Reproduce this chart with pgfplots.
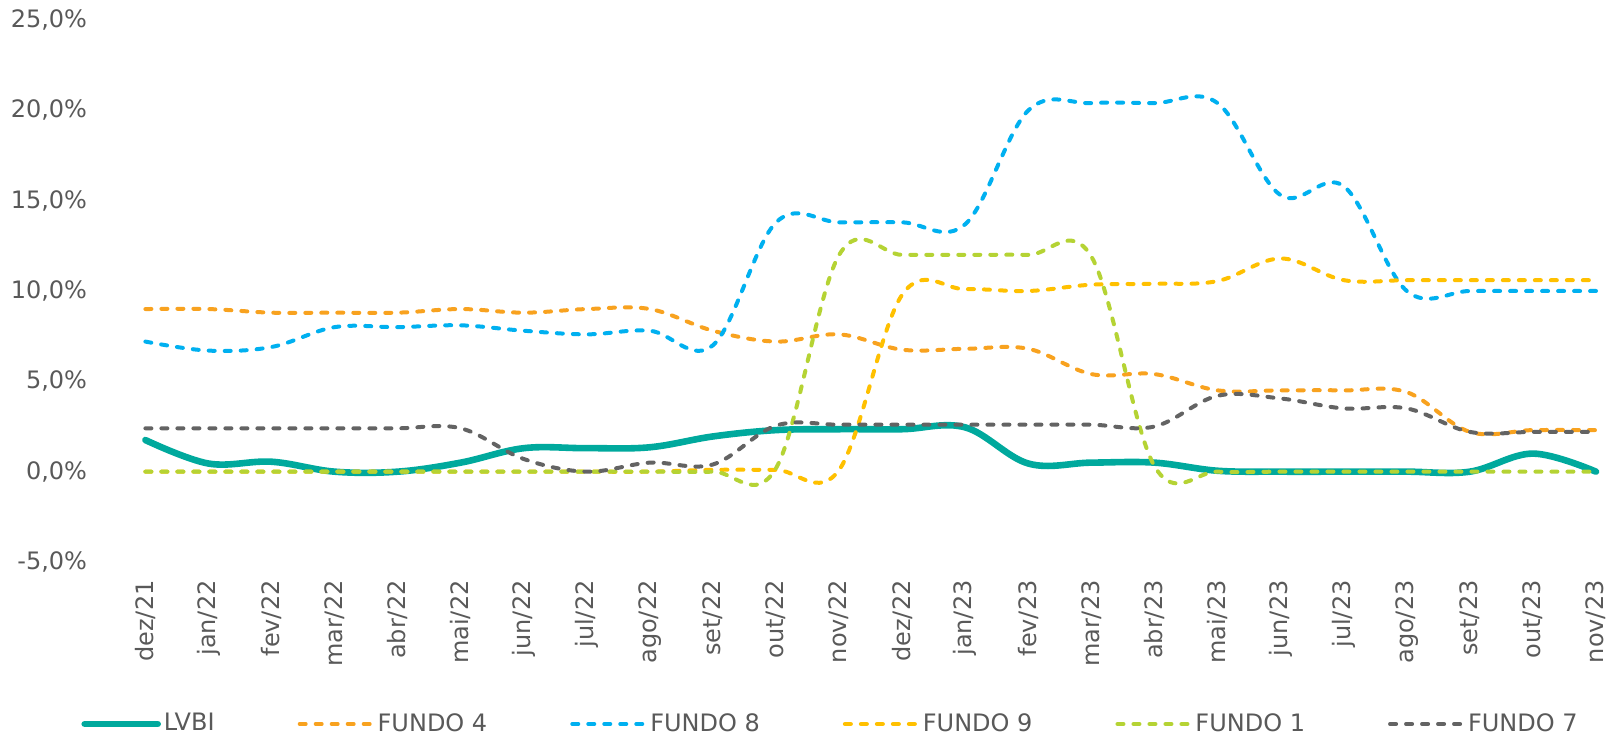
\documentclass[border=0pt]{standalone}
\usepackage{fontspec}
\setmainfont{DejaVu Sans}
\usepackage{pgfplots}
\usepackage{pgfplotstable}
\pgfplotsset{compat=1.18}
\definecolor{txt}{HTML}{595959}
\definecolor{cLVBI}{HTML}{00A99D}
\definecolor{cF4}{HTML}{F8A21F}
\definecolor{cF8}{HTML}{00B0F0}
\definecolor{cF9}{HTML}{FFC000}
\definecolor{cF1}{HTML}{B5D334}
\definecolor{cF7}{HTML}{636363}

\pgfplotstableread{
x LVBI F4 F8 F9 F1 F7
0 1.75 9.0 7.2 0 0 2.4
1 0.45 9.0 6.7 0 0 2.4
2 0.55 8.8 6.9 0 0 2.4
3 0.0 8.8 8.0 0 0 2.4
4 0.0 8.8 8.0 0 0 2.4
5 0.5 9.0 8.1 0 0 2.4
6 1.3 8.8 7.8 0 0 0.7
7 1.3 9.0 7.6 0 0 0.0
8 1.35 9.0 7.8 0 0 0.5
9 1.95 7.8 7.0 0.1 0 0.4
10 2.3 7.2 13.8 0.1 0.2 2.55
11 2.35 7.6 13.8 0.1 12.0 2.6
12 2.35 6.75 13.8 9.8 12.0 2.6
13 2.45 6.8 13.7 10.1 12.0 2.6
14 0.45 6.8 20.0 10.0 12.0 2.6
15 0.5 5.4 20.4 10.35 11.9 2.6
16 0.5 5.4 20.4 10.4 0.3 2.5
17 0.05 4.5 20.4 10.55 0 4.2
18 0.0 4.5 15.3 11.8 0 4.05
19 0.0 4.5 15.8 10.6 0 3.5
20 0.0 4.4 10.0 10.6 0 3.5
21 0.0 2.2 10.0 10.6 0 2.2
22 1.0 2.3 10.0 10.6 0 2.2
23 0.0 2.3 10.0 10.6 0 2.2
}\data

\begin{document}
\fontsize{12}{14.4}\selectfont
\begin{tikzpicture}
\begin{axis}[
  at={(0,0)}, anchor=south west,
  scale only axis, width=725.3pt, height=271pt,
  xmin=0, xmax=23, ymin=-5, ymax=25,
  clip=false,
  axis line style={draw=none},
  major tick length=0pt,
  tick style={draw=none},
  xtick={0,...,23},
  xticklabels={dez/21,jan/22,fev/22,mar/22,abr/22,mai/22,jun/22,jul/22,ago/22,set/22,out/22,nov/22,dez/22,jan/23,fev/23,mar/23,abr/23,mai/23,jun/23,jul/23,ago/23,set/23,out/23,nov/23},
  ytick={-5,0,5,10,15,20,25},
  /pgf/number format/assume math mode=true,
  yticklabel={\pgfmathprintnumber[fixed,fixed zerofill,precision=1,use comma]{\tick}\%},
  ticklabel style={font=\fontsize{12}{14.4}\selectfont, text=txt, inner sep=0pt},
  xticklabel style={rotate=90, anchor=east},
  xticklabel shift=9pt,
  yticklabel style={anchor=east},
  yticklabel shift=29pt,
  legend columns=6,
  legend style={at={(axis description cs:0,0)}, anchor=west, xshift=-32.2pt, yshift=-81pt,
    draw=none, fill=none, inner sep=0pt, font=\fontsize{12}{14.4}\selectfont, text=txt,
    nodes={inner sep=1.5pt},
    /tikz/every even column/.append style={column sep=40pt}},
  legend image code/.code={\draw[#1] (0pt,0pt) -- (36.5pt,0pt);},
  every axis plot/.append style={smooth, tension=0.6, line cap=round},
  dsh/.style={line width=2pt, dash pattern=on 3pt off 5pt},
]
\addplot[cLVBI, line width=3.3pt] table[x=x,y=LVBI]{\data};
\addlegendentry{LVBI}
\addplot[cF4, dsh] table[x=x,y=F4]{\data};
\addlegendentry{FUNDO 4}
\addplot[cF8, dsh] table[x=x,y=F8]{\data};
\addlegendentry{FUNDO 8}
\addplot[cF9, dsh] table[x=x,y=F9]{\data};
\addlegendentry{FUNDO 9}
\addplot[cF1, dsh] table[x=x,y=F1]{\data};
\addlegendentry{FUNDO 1}
\addplot[cF7, dsh] table[x=x,y=F7]{\data};
\addlegendentry{FUNDO 7}
\end{axis}
\pgfresetboundingbox
\path[use as bounding box] (-72.7pt,-87.5pt) rectangle (732.8pt,281pt);
\end{tikzpicture}
\end{document}
